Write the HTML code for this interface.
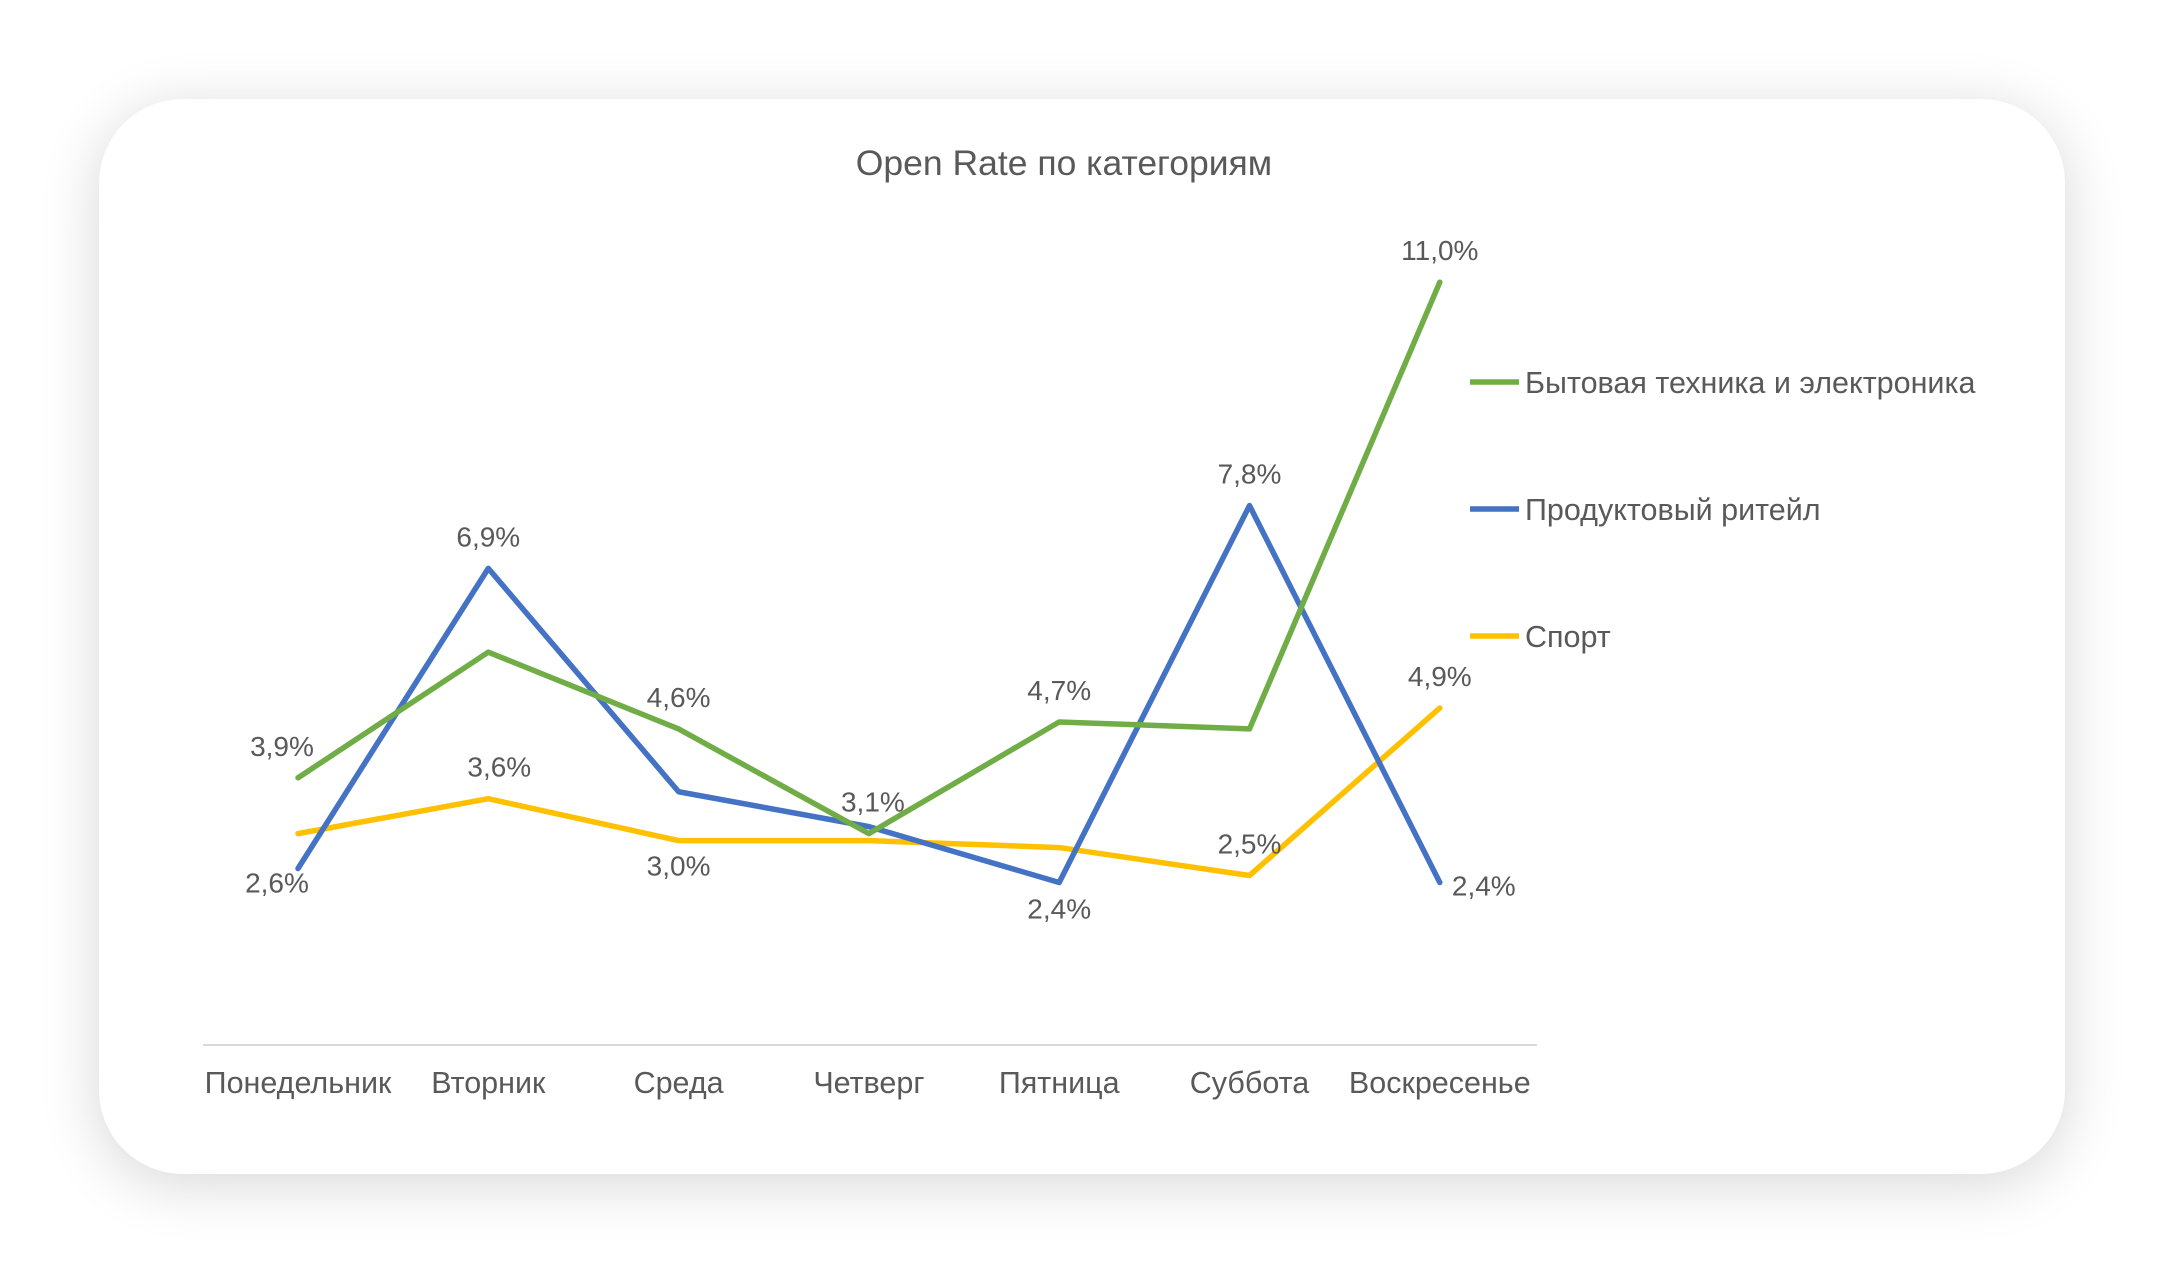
<!DOCTYPE html>
<html><head><meta charset="utf-8">
<style>
body{margin:0;width:2164px;height:1273px;background:#fff;overflow:hidden;font-family:"Liberation Sans",Arial,sans-serif;}
#card{position:absolute;left:99px;top:99px;width:1966px;height:1075px;background:#fff;border-radius:84px;box-shadow:0 10px 60px rgba(0,0,0,0.16);}
svg{position:absolute;left:0;top:0;}
text{font-family:"Liberation Sans",Arial,sans-serif;fill:#595959;}
</style></head>
<body>
<div id="card"></div>
<svg id="chart" width="2164" height="1273">
<text x="1064" y="175" font-size="35.5" text-anchor="middle">Open Rate по категориям</text>
<line x1="203" y1="1045" x2="1537" y2="1045" stroke="#d9d9d9" stroke-width="2"/>
<g id="g"></g>
</svg>
<script>
const categories=["Понедельник","Вторник","Среда","Четверг","Пятница","Суббота","Воскресенье"];
const seriesNames=["Бытовая техника и электроника","Продуктовый ритейл","Спорт"];
const greenValues=[3.9,5.7,4.6,3.1,4.7,4.6,11.0];
const blueValues=[2.6,6.9,3.7,3.2,2.4,7.8,2.4];
const yellowValues=[3.1,3.6,3.0,3.0,2.9,2.5,4.9];
// data labels: [series index, category index, placement, dx, dy]
const dataLabels=[[0,0,"a",-16,0],[1,0,"b",-21,-14],[1,1,"a",0,0],[2,1,"a",11,0],[0,2,"a",0,0],[2,2,"b",0,-3],[0,3,"a",4,0],[0,4,"a",0,0],[1,4,"b",0,-2],[1,5,"a",0,0],[2,5,"a",0,0],[0,6,"a",0,0],[2,6,"a",0,0],[1,6,"r",0,-6]];
const colors=["#70ad47","#4472c4","#ffc000"];
const all=[greenValues,blueValues,yellowValues];
const NS="http://www.w3.org/2000/svg";
const g=document.getElementById('g');
const x=i=>298+i*190.3;
const y=v=>1050-v*69.8;
function mk(t,a){const e=document.createElementNS(NS,t);for(const k in a)e.setAttribute(k,a[k]);g.appendChild(e);return e;}
categories.forEach((c,i)=>{
 const t=mk('text',{x:x(i),y:1093,'font-size':30.5,'text-anchor':'middle'});t.textContent=c;
 
 
});
[2,1,0].forEach(s=>{
 const p=mk('polyline',{points:all[s].map((v,i)=>x(i)+','+y(v)).join(' '),fill:'none',stroke:colors[s],'stroke-width':5.5,'stroke-linejoin':'round','stroke-linecap':'round'});
 
 
});
dataLabels.forEach(([s,i,pl,dx,dy])=>{
 const v=all[s][i];let tx=x(i)+dx,ty=y(v)+dy;
 if(pl==="a")ty-=22;else if(pl==="b")ty+=38;else{tx+=44;ty+=19;}
 const t=mk('text',{x:tx,y:ty,'font-size':28,'text-anchor':'middle'});
 t.textContent=v.toFixed(1).replace('.',',')+'%';
 
 
});
seriesNames.forEach((n,s)=>{
 const ly=382+s*127;
 const l=mk('line',{x1:1470,y1:ly,x2:1519,y2:ly,stroke:colors[s],'stroke-width':5.5});
 
 
 const t=mk('text',{x:1525,y:ly+11,'font-size':30.5});t.textContent=n;
 
 
});
</script>
</body></html>
